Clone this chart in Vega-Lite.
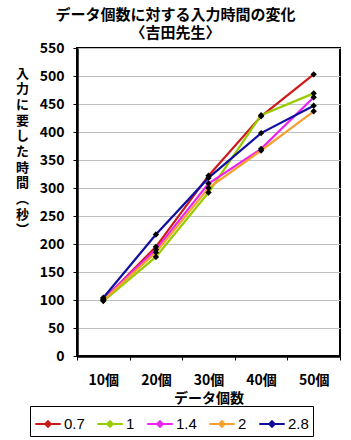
{
  "$schema": "https://vega.github.io/schema/vega-lite/v6.json",
  "autosize": {"type": "none"},
  "width": 263,
  "height": 308,
  "padding": {"left": 77, "top": 48, "right": 11, "bottom": 84},
  "background": "white",
  "title": {
    "text": ["データ個数に対する入力時間の変化", "〈吉田先生〉"],
    "font": "Noto Sans CJK JP",
    "fontSize": 15,
    "fontWeight": "bold",
    "color": "black",
    "lineHeight": 18,
    "anchor": "middle",
    "frame": "group",
    "dx": -33,
    "offset": 0
  },
  "data": {
    "values": [
      {"n": "10個", "s": "0.7", "v": 100},
      {"n": "20個", "s": "0.7", "v": 195},
      {"n": "30個", "s": "0.7", "v": 322},
      {"n": "40個", "s": "0.7", "v": 428},
      {"n": "50個", "s": "0.7", "v": 503},
      {"n": "10個", "s": "1", "v": 98},
      {"n": "20個", "s": "1", "v": 177},
      {"n": "30個", "s": "1", "v": 292},
      {"n": "40個", "s": "1", "v": 430},
      {"n": "50個", "s": "1", "v": 469},
      {"n": "10個", "s": "1.4", "v": 102},
      {"n": "20個", "s": "1.4", "v": 190},
      {"n": "30個", "s": "1.4", "v": 308},
      {"n": "40個", "s": "1.4", "v": 370},
      {"n": "50個", "s": "1.4", "v": 462},
      {"n": "10個", "s": "2", "v": 100},
      {"n": "20個", "s": "2", "v": 185},
      {"n": "30個", "s": "2", "v": 300},
      {"n": "40個", "s": "2", "v": 367},
      {"n": "50個", "s": "2", "v": 437},
      {"n": "10個", "s": "2.8", "v": 104},
      {"n": "20個", "s": "2.8", "v": 217},
      {"n": "30個", "s": "2.8", "v": 318},
      {"n": "40個", "s": "2.8", "v": 398},
      {"n": "50個", "s": "2.8", "v": 447}
    ]
  },
  "encoding": {
    "x": {
      "field": "n",
      "type": "nominal",
      "sort": ["10個", "20個", "30個", "40個", "50個"],
      "bandPosition": 0.5,
      "scale": {"type": "band", "paddingInner": 0, "paddingOuter": 0},
      "axis": {
        "title": "データ個数",
        "labelAngle": 0,
        "tickBand": "extent",
        "grid": false,
        "domainColor": "black",
        "domainWidth": 2.5,
        "tickColor": "black",
        "tickWidth": 1,
        "tickSize": 4,
        "labelFont": "Noto Sans CJK JP",
        "labelFontSize": 14,
        "labelFontWeight": "bold",
        "labelColor": "black",
        "labelPadding": 13,
        "titleFont": "Noto Sans CJK JP",
        "titleFontSize": 14,
        "titleFontWeight": "bold",
        "titleColor": "black",
        "titlePadding": 4
      }
    },
    "y": {
      "field": "v",
      "type": "quantitative",
      "scale": {"domain": [0, 550], "nice": false},
      "axis": {
        "values": [0, 50, 100, 150, 200, 250, 300, 350, 400, 450, 500, 550],
        "title": ["入", "力", "に", "要", "し", "た", "時", "間", "︵", "秒", "︶"],
        "titleAngle": 0,
        "titleX": -55,
        "titleY": 19,
        "titleAlign": "center",
        "titleBaseline": "top",
        "titleLineHeight": 15.7,
        "titleFont": "Noto Sans CJK JP",
        "titleFontSize": 13,
        "titleFontWeight": "bold",
        "titleColor": "black",
        "grid": true,
        "gridColor": "#c0c0c0",
        "gridWidth": 1,
        "domainColor": "black",
        "domainWidth": 2.5,
        "tickColor": "black",
        "tickSize": 4,
        "labelFont": "Noto Sans CJK JP",
        "labelFontSize": 14,
        "labelFontWeight": "bold",
        "labelColor": "black",
        "labelPadding": 9
      }
    }
  },
  "layer": [
    {
      "mark": {"type": "line", "strokeWidth": 2.2},
      "encoding": {
        "color": {
          "field": "s",
          "type": "nominal",
          "sort": ["0.7", "1", "1.4", "2", "2.8"],
          "scale": {
            "domain": ["0.7", "1", "1.4", "2", "2.8"],
            "range": ["#cc1a1a", "#99cc00", "#ee22ee", "#f5a030", "#1010a0"]
          },
          "legend": {
            "orient": "none",
            "direction": "horizontal",
            "legendX": -47,
            "legendY": 358,
            "title": null,
            "columns": 5,
            "symbolType": "M-1,0H1M0,-0.22L0.22,0L0,0.22L-0.22,0Z",
            "symbolSize": 650,
            "symbolStrokeWidth": 2,
            "symbolFillColor": "black",
            "labelFont": "Liberation Sans",
            "labelFontSize": 15,
            "labelColor": "black",
            "labelOffset": 2,
            "columnPadding": 8,
            "strokeColor": "black",
            "padding": 4,
            "offset": 0
          }
        }
      }
    },
    {
      "mark": {"type": "point", "shape": "diamond", "filled": true, "color": "black", "size": 40, "opacity": 1}
    }
  ],
  "config": {
    "view": {"stroke": "black", "strokeWidth": 2}
  }
}
